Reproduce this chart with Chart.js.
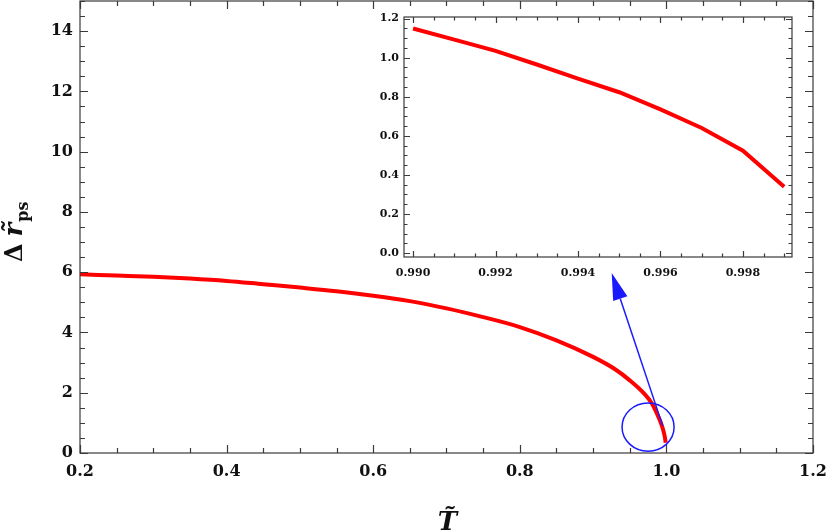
<!DOCTYPE html>
<html>
<head>
<meta charset="utf-8">
<script src="https://cdn.jsdelivr.net/npm/chart.js@4.4.1/dist/chart.umd.min.js"></script>
<style>
  html, body { margin: 0; padding: 0; background: #fff; }
  #wrap { position: relative; width: 830px; height: 532px; }
  #main { position: absolute; left: 0; top: 0; }
  #inset { position: absolute; left: 356px; top: 8px; }
</style>
</head>
<body>
<div id="wrap">
  <canvas id="main" width="830" height="532"></canvas>
  <canvas id="inset" width="450" height="276"></canvas>
</div>
<script>
'use strict';

/* Pääkuvan data: T~ ja Δr~ps */
const mainT = [0.2, 0.25, 0.3, 0.35, 0.4, 0.45, 0.5, 0.55, 0.6, 0.65, 0.7, 0.75, 0.8, 0.85,
               0.9, 0.93, 0.95, 0.97, 0.98, 0.99, 0.992, 0.994, 0.996, 0.998, 0.999];
const mainR = [5.93, 5.89, 5.85, 5.79, 5.71, 5.60, 5.49, 5.37, 5.22, 5.04, 4.80, 4.51, 4.18, 3.74,
               3.19, 2.78, 2.41, 1.96, 1.65, 1.15, 1.03, 0.89, 0.73, 0.52, 0.34];

/* Upotetun kuvan data */
const insetT = [0.990, 0.991, 0.992, 0.993, 0.994, 0.995, 0.996, 0.997, 0.998, 0.999];
const insetR = [1.149, 1.092, 1.035, 0.965, 0.893, 0.823, 0.735, 0.640, 0.524, 0.340];

/* Akselien jaot ja otsikot */
const mainXTicks  = [0.2, 0.4, 0.6, 0.8, 1.0, 1.2];
const mainYTicks  = [0, 2, 4, 6, 8, 10, 12, 14];
const insetXTicks = [0.990, 0.992, 0.994, 0.996, 0.998];
const insetYTicks = [0.0, 0.2, 0.4, 0.6, 0.8, 1.0, 1.2];
const xTitle = 'T\u0303';
const yTitleParts = ['\u0394', 'r\u0303', 'ps'];

/* Merkinnät datakoordinaateissa: ympyrä ja nuoli */
const ringCenter = [0.975, 0.86];
const ringRadius = [0.0355, 0.80];
const arrowFrom  = [0.995, 0.90];
const arrowTo    = [0.9254, 5.97];

const SERIF = '"DejaVu Serif", serif';
const INK   = '#111';

/* Apu: pääjakojen väliin apujaot */
function minorTicks(majors, parts, lo, hi) {
  const step = (majors[1] - majors[0]) / parts;
  const out = [];
  for (let v = majors[0] - step * 40; v <= hi + 1e-12; v += step) {
    if (v >= lo - 1e-12) out.push(+v.toFixed(6));
  }
  return out;
}

/* Akselin koko kiinni, ei ylimääräistä reunustaa tekstien takia */
const fixX = h => s => { s.height = h; s.paddingLeft = 0; s.paddingRight = 0; };
const fixY = w => s => { s.width = w; s.paddingTop = 0; s.paddingBottom = 0; };

/* Kehys ja sisäänpäin osoittavat jakoviivat kaikilla neljällä sivulla */
const frameTicks = {
  id: 'frameTicks',
  afterDatasetsDraw(chart, args, o) {
    const { ctx, chartArea: a, scales: { x, y } } = chart;
    ctx.save();
    ctx.strokeStyle = o.color;
    ctx.lineWidth = o.width;
    ctx.beginPath();
    const xm = minorTicks(o.xMajor, o.xParts, x.min, x.max);
    const ym = minorTicks(o.yMajor, o.yParts, y.min, y.max);
    xm.forEach(v => {
      const isMajor = o.xMajor.some(m => Math.abs(m - v) < 1e-9);
      const len = isMajor ? o.major : o.minor;
      const px = Math.round(x.getPixelForValue(v)) + 0.5;
      ctx.moveTo(px, a.bottom); ctx.lineTo(px, a.bottom - len);
      ctx.moveTo(px, a.top);    ctx.lineTo(px, a.top + len);
    });
    ym.forEach(v => {
      const isMajor = o.yMajor.some(m => Math.abs(m - v) < 1e-9);
      const len = isMajor ? o.major : o.minor;
      const py = Math.round(y.getPixelForValue(v)) + 0.5;
      ctx.moveTo(a.left, py);  ctx.lineTo(a.left + len, py);
      ctx.moveTo(a.right, py); ctx.lineTo(a.right - len, py);
    });
    ctx.stroke();
    ctx.strokeRect(a.left, a.top, a.width, a.height);
    ctx.restore();
  },
};

/* Akselien otsikot (sekatyyli, siksi piirretään itse) */
const axisTitles = {
  id: 'axisTitles',
  afterDraw(chart) {
    const { ctx, chartArea: a } = chart;
    ctx.save();
    ctx.fillStyle = INK;
    ctx.textBaseline = 'alphabetic';
    ctx.textAlign = 'center';
    ctx.font = `italic bold 26px ${SERIF}`;
    ctx.fillText(xTitle, (a.left + a.right) / 2 + 1, 530);

    ctx.translate(22, 262);
    ctx.rotate(-Math.PI / 2);
    ctx.textAlign = 'left';
    let pos = 0;
    ctx.font = `bold 24px ${SERIF}`;
    ctx.fillText(yTitleParts[0], pos, 0);
    pos += ctx.measureText(yTitleParts[0]).width + 7;
    ctx.font = `italic bold 26px ${SERIF}`;
    ctx.fillText(yTitleParts[1], pos, 0);
    pos += ctx.measureText(yTitleParts[1]).width + 1;
    ctx.font = `bold 16px ${SERIF}`;
    ctx.fillText(yTitleParts[2], pos, 6);
    ctx.restore();
  },
};

/* Sininen rengas ja nuoli */
const callout = {
  id: 'callout',
  afterDraw(chart) {
    const { ctx, scales: { x, y } } = chart;
    const cx = x.getPixelForValue(ringCenter[0]);
    const cy = y.getPixelForValue(ringCenter[1]);
    const rx = Math.abs(x.getPixelForValue(ringCenter[0] + ringRadius[0]) - cx);
    const ry = Math.abs(y.getPixelForValue(ringCenter[1] + ringRadius[1]) - cy);
    const x0 = x.getPixelForValue(arrowFrom[0]), y0 = y.getPixelForValue(arrowFrom[1]);
    const x1 = x.getPixelForValue(arrowTo[0]),   y1 = y.getPixelForValue(arrowTo[1]);
    const ang = Math.atan2(y1 - y0, x1 - x0);
    const headL = 27, headW = 7.5;
    const bx = x1 - headL * Math.cos(ang), by = y1 - headL * Math.sin(ang);

    ctx.save();
    ctx.strokeStyle = '#1a1aff';
    ctx.fillStyle = '#1a1aff';
    ctx.lineWidth = 1.5;
    ctx.beginPath();
    ctx.ellipse(cx, cy, rx, ry, 0, 0, Math.PI * 2);
    ctx.stroke();
    ctx.beginPath();
    ctx.moveTo(x0, y0);
    ctx.lineTo(bx, by);
    ctx.stroke();
    ctx.beginPath();
    ctx.moveTo(x1, y1);
    ctx.lineTo(bx + headW * Math.sin(ang), by - headW * Math.cos(ang));
    ctx.lineTo(bx - headW * Math.sin(ang), by + headW * Math.cos(ang));
    ctx.closePath();
    ctx.fill();
    ctx.restore();
  },
};

Chart.defaults.font.family = SERIF;
Chart.defaults.color = INK;

/* ---------- Pääkuva ---------- */
new Chart(document.getElementById('main'), {
  type: 'line',
  data: {
    datasets: [{
      data: mainT.map((t, i) => ({ x: t, y: mainR[i] })),
      borderColor: '#ff0000',
      borderWidth: 4,
      pointRadius: 0,
      cubicInterpolationMode: 'monotone',
      fill: false,
    }],
  },
  options: {
    responsive: false,
    animation: false,
    devicePixelRatio: 1,
    layout: { padding: { left: 0, top: 1, right: 17, bottom: 0 } },
    plugins: {
      legend: { display: false },
      tooltip: { enabled: false },
      frameTicks: {
        color: '#3a3a3a', width: 1.2,
        xMajor: mainXTicks, xParts: 4,
        yMajor: mainYTicks, yParts: 4,
        major: 8, minor: 5,
      },
    },
    scales: {
      x: {
        type: 'linear', min: 0.2, max: 1.2,
        afterBuildTicks: s => { s.ticks = mainXTicks.map(v => ({ value: v })); },
        afterFit: fixX(79),
        grid: { display: false, drawTicks: false },
        border: { display: false },
        ticks: {
          padding: 9, maxRotation: 0,
          font: { size: 16, weight: 'bold' },
          callback: v => v.toFixed(1),
        },
      },
      y: {
        type: 'linear', min: 0, max: 15,
        afterBuildTicks: s => { s.ticks = mainYTicks.map(v => ({ value: v })); },
        afterFit: fixY(80),
        grid: { display: false, drawTicks: false },
        border: { display: false },
        ticks: {
          padding: 7,
          font: { size: 16, weight: 'bold' },
          callback: v => String(v),
        },
      },
    },
  },
  plugins: [frameTicks, axisTitles, callout],
});

/* ---------- Upotettu kuva ---------- */
new Chart(document.getElementById('inset'), {
  type: 'line',
  data: {
    datasets: [{
      data: insetT.map((t, i) => ({ x: t, y: insetR[i] })),
      borderColor: '#ff0000',
      borderWidth: 4,
      pointRadius: 0,
      tension: 0,
      fill: false,
    }],
  },
  options: {
    responsive: false,
    animation: false,
    devicePixelRatio: 1,
    layout: { padding: { left: 0, top: 9, right: 14, bottom: 0 } },
    plugins: {
      legend: { display: false },
      tooltip: { enabled: false },
      frameTicks: {
        color: '#3a3a3a', width: 1.2,
        xMajor: insetXTicks, xParts: 4,
        yMajor: insetYTicks, yParts: 4,
        major: 6, minor: 3.5,
      },
    },
    scales: {
      x: {
        type: 'linear', min: 0.98978, max: 0.99919,
        afterBuildTicks: s => { s.ticks = insetXTicks.map(v => ({ value: v })); },
        afterFit: fixX(27),
        grid: { display: false, drawTicks: false },
        border: { display: false },
        ticks: {
          padding: 10, maxRotation: 0,
          font: { size: 11, weight: 'bold' },
          callback: v => v.toFixed(3),
        },
      },
      y: {
        type: 'linear', min: -0.02, max: 1.208,
        afterBuildTicks: s => { s.ticks = insetYTicks.map(v => ({ value: v })); },
        afterFit: fixY(48),
        grid: { display: false, drawTicks: false },
        border: { display: false },
        ticks: {
          padding: 5,
          font: { size: 11, weight: 'bold' },
          callback: v => v.toFixed(1),
        },
      },
    },
  },
  plugins: [frameTicks],
});
</script>
</body>
</html>
